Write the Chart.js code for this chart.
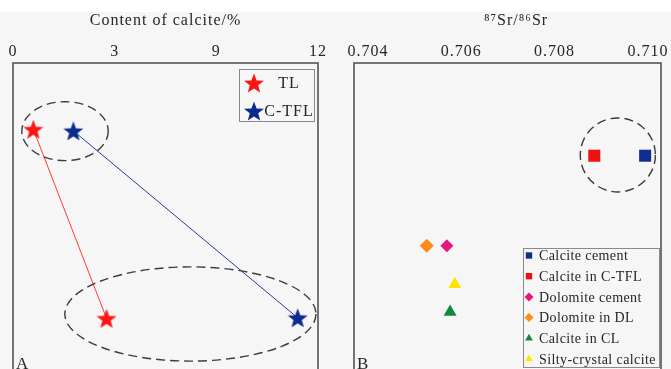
<!DOCTYPE html>
<html>
<head>
<meta charset="utf-8">
<script src="https://cdn.jsdelivr.net/npm/chart.js@4"></script>
<style>
  html, body { margin: 0; padding: 0; width: 671px; height: 369px; overflow: hidden; background: #f6f6f6; }
  #topband { position: absolute; left: 0; top: 0; width: 671px; height: 12px; background: #ffffff; }
  canvas { position: absolute; top: 0; }
  #contentChart { left: 0; }
  #srChart { left: 337px; }
</style>
</head>
<body>
<div id="topband"></div>
<canvas id="contentChart" width="337" height="371"></canvas>
<canvas id="srChart" width="334" height="371"></canvas>
<script>
// ---- Panel A: calcite content (top axis uses equal spacing between labelled values)
const calciteTicks = [0, 3, 9, 12];
const calciteTickLabels = ['0', '3', '9', '12'];
const contentSeries = ['TL', 'C-TFL'];
const tlCalcite = [0.60, 2.76];
const tlLevel = [78.4, 16.8];
const ctflCalcite = [1.78, 11.40];
const ctflLevel = [77.9, 17.0];
// grouping rings: [xMin, xMax, yMin, yMax]
const contentRings = [[0.26, 2.81, 68.2, 87.4], [1.53, 11.94, 2.9, 33.6]];

// ---- Panel B: 87Sr/86Sr
const srTicks = [0.704, 0.706, 0.708, 0.710];
const srTickLabels = ['0.704', '0.706', '0.708', '0.710'];
const srGroups = ['Calcite cement', 'Calcite in C-TFL', 'Dolomite cement', 'Dolomite in DL', 'Calcite in CL', 'Silty-crystal calcite'];
const srRatio = [0.70994, 0.70885, 0.70569, 0.70526, 0.70576, 0.70586];
const srLevel = [69.8, 69.8, 40.5, 40.5, 18.9, 27.9];
const srRings = [[0.70855, 0.71016, 58.0, 82.1]];

const SERIF = '"Liberation Serif", "Times New Roman", serif';
const TEXT = '#262626';

// Axis whose labelled values sit at equal distances (piecewise linear between them)
class BrokenLinearScale extends Chart.LinearScale {
  static id = 'brokenLinear';
  static defaults = {};
  buildTicks() { return calciteTicks.map(v => ({ value: v })); }
  getPixelForValue(value) {
    const b = calciteTicks, n = b.length - 1;
    let i = 0;
    while (i < n - 1 && value > b[i + 1]) i++;
    const frac = (i + (value - b[i]) / (b[i + 1] - b[i])) / n;
    return this.getPixelForDecimal(frac);
  }
  getValueForPixel(pixel) {
    const b = calciteTicks, n = b.length - 1;
    const d = this.getDecimalForPixel(pixel) * n;
    const i = Math.min(Math.max(Math.floor(d), 0), n - 1);
    return b[i] + (d - i) * (b[i + 1] - b[i]);
  }
}
Chart.register(BrokenLinearScale);

function starMark(color, size) {
  const c = document.createElement('canvas');
  c.width = size; c.height = size;
  const g = c.getContext('2d');
  const R = size / 2 - 0.5, r = R * 0.42;
  const cx = size / 2, cy = size / 2 + R * 0.095;
  g.beginPath();
  for (let k = 0; k < 10; k++) {
    const rad = k % 2 ? r : R;
    const a = -Math.PI / 2 + k * Math.PI / 5;
    g.lineTo(cx + rad * Math.cos(a), cy + rad * Math.sin(a));
  }
  g.closePath();
  g.fillStyle = color;
  g.fill();
  return c;
}

function drawMarker(ctx, style, x, y, r, color) {
  if (style instanceof HTMLCanvasElement) {
    ctx.drawImage(style, x - style.width / 2, y - style.height / 2);
    return;
  }
  ctx.fillStyle = color;
  ctx.beginPath();
  if (style === 'rect') {
    const s = r * Math.SQRT1_2;
    ctx.rect(x - s, y - s, 2 * s, 2 * s);
  } else if (style === 'rectRot') {
    ctx.moveTo(x, y - r); ctx.lineTo(x + r, y); ctx.lineTo(x, y + r); ctx.lineTo(x - r, y);
    ctx.closePath();
  } else if (style === 'triangle') {
    const h = r * Math.sqrt(3) / 2;
    ctx.moveTo(x, y - r); ctx.lineTo(x + h, y + r / 2); ctx.lineTo(x - h, y + r / 2);
    ctx.closePath();
  }
  ctx.fill();
}

// Frame, dashed grouping rings, boxed legend and panel letter
function panelDecor(cfg) {
  return {
    id: 'panelDecor',
    beforeDraw(chart) { chart.ctx.letterSpacing = '1px'; },
    afterDatasetsDraw(chart) {
      const { ctx, chartArea: a, scales } = chart;
      ctx.save();
      ctx.letterSpacing = '0px';
      // rings
      ctx.strokeStyle = '#3c3c3c';
      ctx.lineWidth = 1.4;
      ctx.setLineDash([9, 5]);
      cfg.rings.forEach(([x0, x1, y0, y1]) => {
        const px0 = scales.x.getPixelForValue(x0), px1 = scales.x.getPixelForValue(x1);
        const py0 = scales.y.getPixelForValue(y1), py1 = scales.y.getPixelForValue(y0);
        ctx.beginPath();
        ctx.ellipse((px0 + px1) / 2, (py0 + py1) / 2, (px1 - px0) / 2, (py1 - py0) / 2, 0, 0, Math.PI * 2);
        ctx.stroke();
      });
      ctx.setLineDash([]);
      // frame
      ctx.strokeStyle = '#4a4a4a';
      ctx.lineWidth = 1.5;
      ctx.strokeRect(a.left, a.top, a.right - a.left, a.bottom - a.top);
      // legend box
      const L = cfg.legend;
      const bx = a.right - L.right - L.width, by = L.top != null ? a.top + L.top : a.bottom - L.bottom - L.height;
      ctx.strokeStyle = '#8a8a8a';
      ctx.lineWidth = 1;
      ctx.strokeRect(bx + 0.5, by + 0.5, L.width, L.height);
      ctx.font = L.font;
      ctx.letterSpacing = L.spacing;
      ctx.fillStyle = TEXT;
      ctx.textBaseline = 'middle';
      chart.data.datasets.forEach((ds, i) => {
        const y = by + L.rowTop + i * L.rowGap;
        drawMarker(ctx, ds.pointStyle, bx + L.markX, y, L.markR, ds.pointBackgroundColor);
        ctx.fillStyle = TEXT;
        ctx.textAlign = L.textAlign;
        ctx.fillText(ds.label, bx + L.textX, y + 1);
      });
      // panel letter
      ctx.letterSpacing = '0px';
      ctx.font = '17px ' + SERIF;
      ctx.textAlign = 'left';
      ctx.textBaseline = 'alphabetic';
      ctx.fillStyle = TEXT;
      ctx.fillText(cfg.letter, a.left + 3, 369);
      ctx.restore();
    }
  };
}

const axisFont = { family: SERIF, size: 16 };

const redStar = starMark('#ff1414', 22);
const blueStar = starMark('#0c2b8f', 22);

new Chart(document.getElementById('contentChart'), {
  type: 'scatter',
  data: {
    datasets: [
      {
        label: contentSeries[0],
        data: tlCalcite.map((v, i) => ({ x: v, y: tlLevel[i] })),
        showLine: true, borderColor: '#ff3a30', borderWidth: 1,
        pointStyle: redStar, pointBackgroundColor: '#ff1414', pointRadius: 10, pointBorderWidth: 0
      },
      {
        label: contentSeries[1],
        data: ctflCalcite.map((v, i) => ({ x: v, y: ctflLevel[i] })),
        showLine: true, borderColor: '#2b3a92', borderWidth: 1,
        pointStyle: blueStar, pointBackgroundColor: '#0c2b8f', pointRadius: 10, pointBorderWidth: 0
      }
    ]
  },
  options: {
    responsive: false, animation: false, devicePixelRatio: 1,
    layout: { autoPadding: false, padding: { left: 13, right: 19, top: 0, bottom: 1 } },
    plugins: { legend: { display: false }, tooltip: { enabled: false } },
    scales: {
      x: {
        type: 'brokenLinear', position: 'top', min: 0, max: 12,
        grid: { display: false, drawTicks: false }, border: { display: false },
        ticks: { padding: 2, font: axisFont, color: TEXT, maxRotation: 0, autoSkip: false,
                 callback: (v, i) => calciteTickLabels[i] },
        title: { display: true, text: 'Content of calcite/%', font: axisFont, color: TEXT, padding: { top: 11, bottom: 0 } },
        afterFit: s => { s.height = 63; }
      },
      y: { display: false, min: 0, max: 100 }
    }
  },
  plugins: [panelDecor({
    rings: contentRings, letter: 'A',
    legend: { right: 4, top: 6, width: 75, height: 52, rowTop: 14, rowGap: 28,
              markX: 15, markR: 10, textX: 50, textAlign: 'center',
              font: '16px ' + SERIF, spacing: '1px' }
  })]
});

const srStyles = ['rect', 'rect', 'rectRot', 'rectRot', 'triangle', 'triangle'];
const srColors = ['#0d2f8f', '#f01010', '#e8157f', '#ff8a1c', '#12883c', '#ffe400'];
const srSizes = [8.5, 8.5, 6.5, 7, 7.5, 7.5];

new Chart(document.getElementById('srChart'), {
  type: 'scatter',
  data: {
    datasets: srGroups.map((g, i) => ({
      label: g,
      data: [{ x: srRatio[i], y: srLevel[i] }],
      pointStyle: srStyles[i], pointBackgroundColor: srColors[i],
      pointRadius: srSizes[i], pointBorderWidth: 0
    }))
  },
  options: {
    responsive: false, animation: false, devicePixelRatio: 1,
    layout: { autoPadding: false, padding: { left: 17, right: 10, top: 0, bottom: 1 } },
    plugins: { legend: { display: false }, tooltip: { enabled: false } },
    scales: {
      x: {
        type: 'linear', position: 'top', min: 0.7037, max: 0.71028,
        grid: { display: false, drawTicks: false }, border: { display: false },
        afterBuildTicks: s => { s.ticks = srTicks.map(v => ({ value: v })); },
        ticks: { padding: 2, font: axisFont, color: TEXT, maxRotation: 0, autoSkip: false,
                 callback: (v, i) => srTickLabels[i] },
        title: { display: true, text: '\u2003⁸⁷Sr/⁸⁶Sr', font: axisFont, color: TEXT, padding: { top: 11, bottom: 0 } },
        afterFit: s => { s.height = 63; }
      },
      y: { display: false, min: 0, max: 100 }
    }
  },
  plugins: [panelDecor({
    rings: srRings, letter: 'B',
    legend: { right: 2, bottom: 3, width: 136, height: 119, rowTop: 7.5, rowGap: 20.7,
              markX: 6, markR: 4.5, textX: 16, textAlign: 'left',
              font: '14px ' + SERIF, spacing: '0.4px' }
  })]
});
</script>
</body>
</html>
